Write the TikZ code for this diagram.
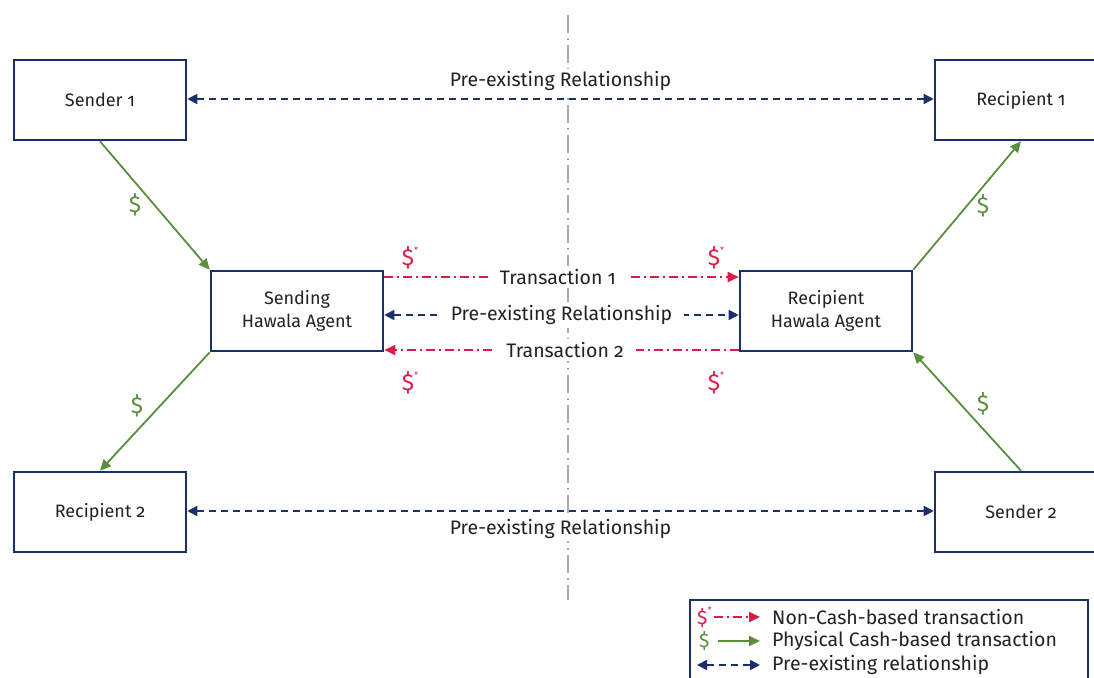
\documentclass[tikz,border=0pt]{standalone}
\usepackage{fontspec}
\setmainfont[Numbers=OldStyle]{Fira Sans}
\usetikzlibrary{arrows.meta}

\definecolor{navy}{HTML}{1B2F6B}
\definecolor{cashgreen}{HTML}{5A8E3A}
\definecolor{noncashred}{HTML}{DD1A45}
\definecolor{axisgrey}{HTML}{ABABAB}
\definecolor{inkgrey}{HTML}{222222}

\newcommand{\starcash}{\$\raisebox{0.55em}{\fontsize{9}{9}\selectfont*}}

\tikzset{
  party/.style={draw=navy, line width=2.6pt, minimum width=172pt,
    minimum height=80pt, align=center, inner sep=0pt, text=inkgrey,
    font=\fontsize{18}{23}\selectfont},
  relarrow/.style={navy, line width=1.8pt, dash pattern=on 7pt off 5pt,
    {Triangle[length=10pt,width=10pt]}-{Triangle[length=10pt,width=10pt]}},
  casharrow/.style={cashgreen, line width=1.8pt,
    -{Triangle[length=11pt,width=10pt]}},
  noncasharrow/.style={noncashred, line width=1.8pt,
    dash pattern=on 9pt off 4pt on 2pt off 4pt,
    -{Triangle[length=11pt,width=10pt]}},
  lbl/.style={fill=white, inner sep=3pt, text=inkgrey,
    font=\fontsize{19.5}{22}\selectfont},
  money/.style={font=\fontsize{23}{24}\selectfont},
}

\begin{document}
\begin{tikzpicture}[x=1pt,y=-1pt]
\useasboundingbox (0,0) rectangle (1094,677);

% centre divider
\draw[axisgrey, line width=1.6pt, dash pattern=on 18pt off 5pt on 2pt off 5pt]
  (568,15) -- (568,600);

% parties
\node[party] (snd1) at (100,100) {Sender 1};
\node[party] (rcp1) at (1021,100) {Recipient 1};
\node[party] (sha) at (297,311) {Sending\\Hawala Agent};
\node[party] (rha) at (826,311) {Recipient\\Hawala Agent};
\node[party] (rcp2) at (100,512) {Recipient 2};
\node[party] (snd2) at (1021,512) {Sender 2};

% relationships
\draw[relarrow] ([yshift=1pt]snd1.east) -- node[lbl, above=4pt] {Pre-existing Relationship} ([yshift=1pt]rcp1.west);
\draw[relarrow] ([yshift=1pt]rcp2.east) -- node[lbl, below=4pt] {Pre-existing Relationship} ([yshift=1pt]snd2.west);
\draw[relarrow] ([yshift=-4pt]sha.east) -- node[lbl, inner xsep=12pt] {Pre-existing Relationship} ([yshift=-4pt]rha.west);

% transactions between agents
\draw[noncasharrow] ([yshift=34pt]sha.east) -- node[lbl, inner xsep=12pt, pos=0.49] {Transaction 1} ([yshift=34pt]rha.west);
\draw[noncasharrow] ([yshift=-39pt]rha.west) -- node[lbl, inner xsep=12pt, pos=0.49] {Transaction 2} ([yshift=-39pt]sha.east);
\node[money, noncashred] (t1a) at (410,258) {\starcash};
\node[money, noncashred] (t1b) at (716,258) {\starcash};
\node[money, noncashred] (t2a) at (410,383) {\starcash};
\node[money, noncashred] (t2b) at (716,383) {\starcash};

% cash hand-overs
\draw[casharrow] (snd1.south) -- (sha.north west);
\draw[casharrow] (sha.south west) -- (rcp2.north);
\draw[casharrow] (rha.north east) -- (rcp1.south);
\draw[casharrow] (snd2.north) -- (rha.south east);
\node[money, cashgreen] at (135,205) {\$};
\node[money, cashgreen] at (137,406) {\$};
\node[money, cashgreen] at (983,206) {\$};
\node[money, cashgreen] at (983,404) {\$};

% legend
\draw[navy, line width=1.2pt] (690,690) -- (690,600) -- (1088,600) -- (1088,690);
\node[lbl, text=noncashred, anchor=west, inner sep=0pt] (lg1) at (697,617) {\starcash};
\coordinate (lg1e) at (760,617);
\draw[noncasharrow] ([xshift=2pt]lg1.east) -- (lg1e);
\node[lbl, anchor=west, inner sep=0pt] at (772,617) {Non-Cash-based transaction};
\node[lbl, text=cashgreen, anchor=west, inner sep=0pt] (lg2) at (699,641) {\$};
\coordinate (lg2e) at (760,641);
\draw[casharrow] ([xshift=8pt]lg2.east) -- (lg2e);
\node[lbl, anchor=west, inner sep=0pt] at (772,641) {Physical Cash-based transaction};
\coordinate (lg3a) at (697,665);
\coordinate (lg3b) at (760,665);
\draw[relarrow] (lg3a) -- (lg3b);
\node[lbl, anchor=west, inner sep=0pt] at (772,665) {Pre-existing relationship};
\end{tikzpicture}
\end{document}
